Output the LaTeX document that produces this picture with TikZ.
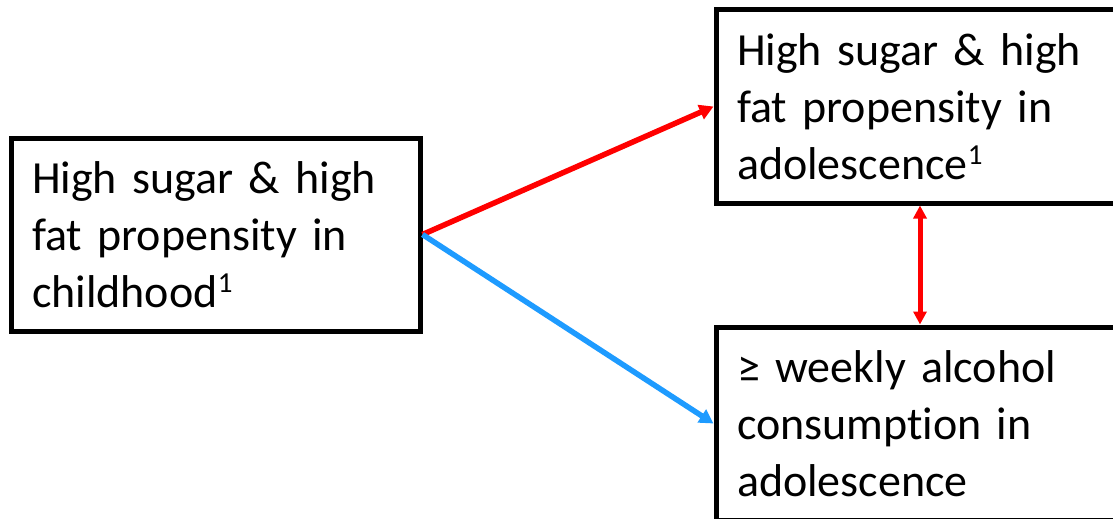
\documentclass[tikz,border=0pt]{standalone}
\usepackage{fontspec}
\setmainfont{Carlito}[Ligatures=NoCommon]
\usetikzlibrary{arrows.meta}
\definecolor{arrowred}{RGB}{255,0,0}
\definecolor{arrowblue}{RGB}{30,155,255}
\newcommand{\supone}{\raisebox{0.32em}{\fontsize{29}{29}\selectfont 1}}
\tikzset{
  box/.style={draw=black, line width=5pt, fill=white, minimum height=193pt,
    inner xsep=21pt, inner ysep=0pt, align=left, anchor=center,
    font=\fontsize{46}{57}\selectfont},
  leftbox/.style={box, minimum width=409pt, text width=367pt},
  rightbox/.style={box, minimum width=408pt, text width=366pt},
  link/.style={line width=5.5pt, -{Triangle[length=14pt,width=15pt]}},
  both/.style={line width=5pt, {Triangle[length=13pt,width=13pt]}-{Triangle[length=13pt,width=13pt]}}
}
\begin{document}
\begin{tikzpicture}[x=1pt,y=-1pt]
\useasboundingbox (0,0) rectangle (1113,519);
\clip (0,0) rectangle (1113,519);
\node[leftbox] (child) at (215.5,234.5) {High sugar \& high\\fat propensity in\\childhood\supone};
\node[rightbox] (adol) at (920,106.5) {High sugar \& high\\fat propensity in\\adolescence\supone};
\node[rightbox] (alc) at (920,423.5) {≥ weekly alcohol\\consumption in\\adolescence};
\draw[link, draw=arrowred, fill=arrowred] (child.east) -- (adol.west);
\draw[link, draw=arrowblue, fill=arrowblue] (child.east) -- (alc.west);
\draw[both, draw=arrowred, fill=arrowred] (adol.south) -- (alc.north);
\end{tikzpicture}
\end{document}
